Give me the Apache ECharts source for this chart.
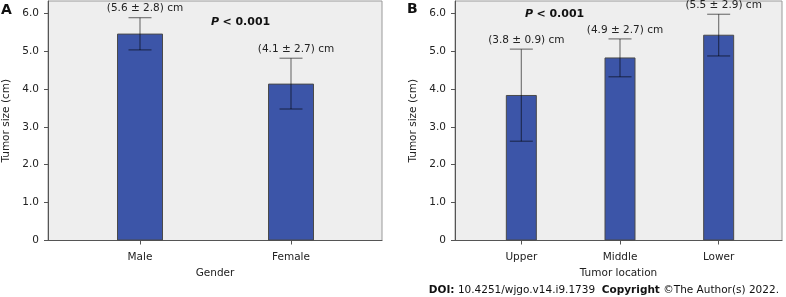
<!DOCTYPE html>
<html>
<head>
<meta charset="utf-8">
<script src="https://cdn.jsdelivr.net/npm/echarts@6/dist/echarts.min.js"></script>
<style>html,body{margin:0;padding:0;background:#fff}#c{width:786px;height:297px}</style>
</head>
<body>
<div id="c"></div>
<script>
const catA = ['Male', 'Female'];
const meanA = [5.46, 4.14];
const lowA = [5.03, 3.47];
const highA = [5.88, 4.81];
const labelA = ['(5.6 \u00b1 2.8) cm', '(4.1 \u00b1 2.7) cm'];

const catB = ['Upper', 'Middle', 'Lower'];
const meanB = [3.84, 4.83, 5.43];
const lowB = [2.62, 4.32, 4.87];
const highB = [5.05, 5.32, 5.97];
const labelB = ['(3.8 \u00b1 0.9) cm', '(4.9 \u00b1 2.7) cm', '(5.5 \u00b1 2.9) cm'];

const yTicks = [0, 1, 2, 3, 4, 5, 6];
const yMax = 6.32;

const FONT = 'DejaVu Sans';
const chart = echarts.init(document.getElementById('c'));

function errSeries(xi, yi, lows, highs, labels) {
  return {
    type: 'custom', xAxisIndex: xi, yAxisIndex: yi, clip: false, z: 5,
    data: lows.map((l, i) => [i, l, highs[i]]),
    renderItem: function (params, api) {
      const i = api.value(0);
      const lo = api.coord([i, api.value(1)]);
      const hi = api.coord([i, api.value(2)]);
      const h = 11.5;
      const st = { stroke: 'rgba(0,0,0,0.5)', lineWidth: 1.2 };
      return {
        type: 'group',
        children: [
          { type: 'line', shape: { x1: lo[0], y1: lo[1], x2: hi[0], y2: hi[1] }, style: st },
          { type: 'line', shape: { x1: lo[0] - h, y1: lo[1], x2: lo[0] + h, y2: lo[1] }, style: st },
          { type: 'line', shape: { x1: hi[0] - h, y1: hi[1], x2: hi[0] + h, y2: hi[1] }, style: st },
          { type: 'text', style: { text: labels[params.dataIndex], x: hi[0] + 5, y: hi[1] - 9,
              align: 'center', verticalAlign: 'middle', fontSize: 10.5, fontFamily: FONT, fill: '#222' } }
        ]
      };
    }
  };
}

function outerGrid(left, right) {
  return { left: left, right: right, top: 1, bottom: 56.5, show: true,
    backgroundColor: '#eeeeee', borderColor: '#9a9a9a', borderWidth: 1 };
}
function innerGrid(left, right) {
  return { left: left, right: right, top: 1, bottom: 56.5 };
}
function outerX(gi, name) {
  return { type: 'value', gridIndex: gi, min: 0, max: 1,
    axisLine: { show: true, lineStyle: { color: '#555', width: 1 } },
    axisTick: { show: false }, axisLabel: { show: false }, splitLine: { show: false },
    name: name, nameLocation: 'middle', nameGap: 27,
    nameTextStyle: { fontSize: 10.5, fontFamily: FONT, color: '#222' } };
}
function innerX(gi, cats) {
  return { type: 'category', gridIndex: gi, data: cats,
    axisLine: { show: false },
    axisTick: { show: true, alignWithLabel: true, length: 4, lineStyle: { color: '#555' } },
    axisLabel: { margin: 11, fontSize: 10.5, fontFamily: FONT, color: '#222' } };
}
function outerY(gi) {
  return { type: 'value', gridIndex: gi, min: 0, max: yMax,
    axisLine: { show: true, lineStyle: { color: '#555', width: 1 } },
    axisTick: { show: true, length: 4, customValues: yTicks, lineStyle: { color: '#555' } },
    axisLabel: { customValues: yTicks, margin: 9, fontSize: 10.5, fontFamily: FONT, color: '#222',
      formatter: v => v === 0 ? '0' : v.toFixed(1) },
    splitLine: { show: false },
    name: 'Tumor size (cm)', nameLocation: 'middle', nameGap: 36,
    nameTextStyle: { fontSize: 10.5, fontFamily: FONT, color: '#222' } };
}
function innerY(gi) {
  return { type: 'value', gridIndex: gi, min: 0, max: yMax, show: false, splitLine: { show: false } };
}

const barStyle = { color: '#3c55a8', borderColor: '#4a4a4a', borderWidth: 1 };

const option = {
  animation: false,
  grid: [
    outerGrid(48, 404),
    innerGrid(64.5, 419.5),
    outerGrid(455, 4),
    innerGrid(472, 18)
  ],
  xAxis: [outerX(0, 'Gender'), innerX(1, catA), outerX(2, 'Tumor location'), innerX(3, catB)],
  yAxis: [outerY(0), innerY(1), outerY(2), innerY(3)],
  series: [
    { type: 'bar', xAxisIndex: 1, yAxisIndex: 1, data: meanA, barWidth: 46, itemStyle: barStyle },
    errSeries(1, 1, lowA, highA, labelA),
    { type: 'bar', xAxisIndex: 3, yAxisIndex: 3, data: meanB, barWidth: 31, itemStyle: barStyle },
    errSeries(3, 3, lowB, highB, labelB)
  ],
  graphic: [
    { type: 'text', left: 1, top: 3, style: { text: 'A', fontSize: 14, fontWeight: 'bold', fontFamily: FONT, fill: '#111' } },
    { type: 'text', left: 407, top: 2, style: { text: 'B', fontSize: 14, fontWeight: 'bold', fontFamily: FONT, fill: '#111' } },
    { type: 'text', left: 211, top: 16, style: { text: '{i|P} {b|< 0.001}',
        rich: { i: { fontStyle: 'italic', fontWeight: 'bold', fontSize: 11, fontFamily: FONT, fill: '#111' },
                b: { fontWeight: 'bold', fontSize: 11, fontFamily: FONT, fill: '#111' } } } },
    { type: 'text', left: 525, top: 8, style: { text: '{i|P} {b|< 0.001}',
        rich: { i: { fontStyle: 'italic', fontWeight: 'bold', fontSize: 11, fontFamily: FONT, fill: '#111' },
                b: { fontWeight: 'bold', fontSize: 11, fontFamily: FONT, fill: '#111' } } } },
    { type: 'text', right: 7, top: 284, style: { text: '{b|DOI:} {n|10.4251/wjgo.v14.i9.1739}  {b|Copyright} {n|\u00a9The Author(s) 2022.}',
        rich: { b: { fontWeight: 'bold', fontSize: 10.5, fontFamily: FONT, fill: '#111' },
                n: { fontSize: 10.5, fontFamily: FONT, fill: '#111' } } } }
  ]
};
chart.setOption(option);
</script>
</body>
</html>
